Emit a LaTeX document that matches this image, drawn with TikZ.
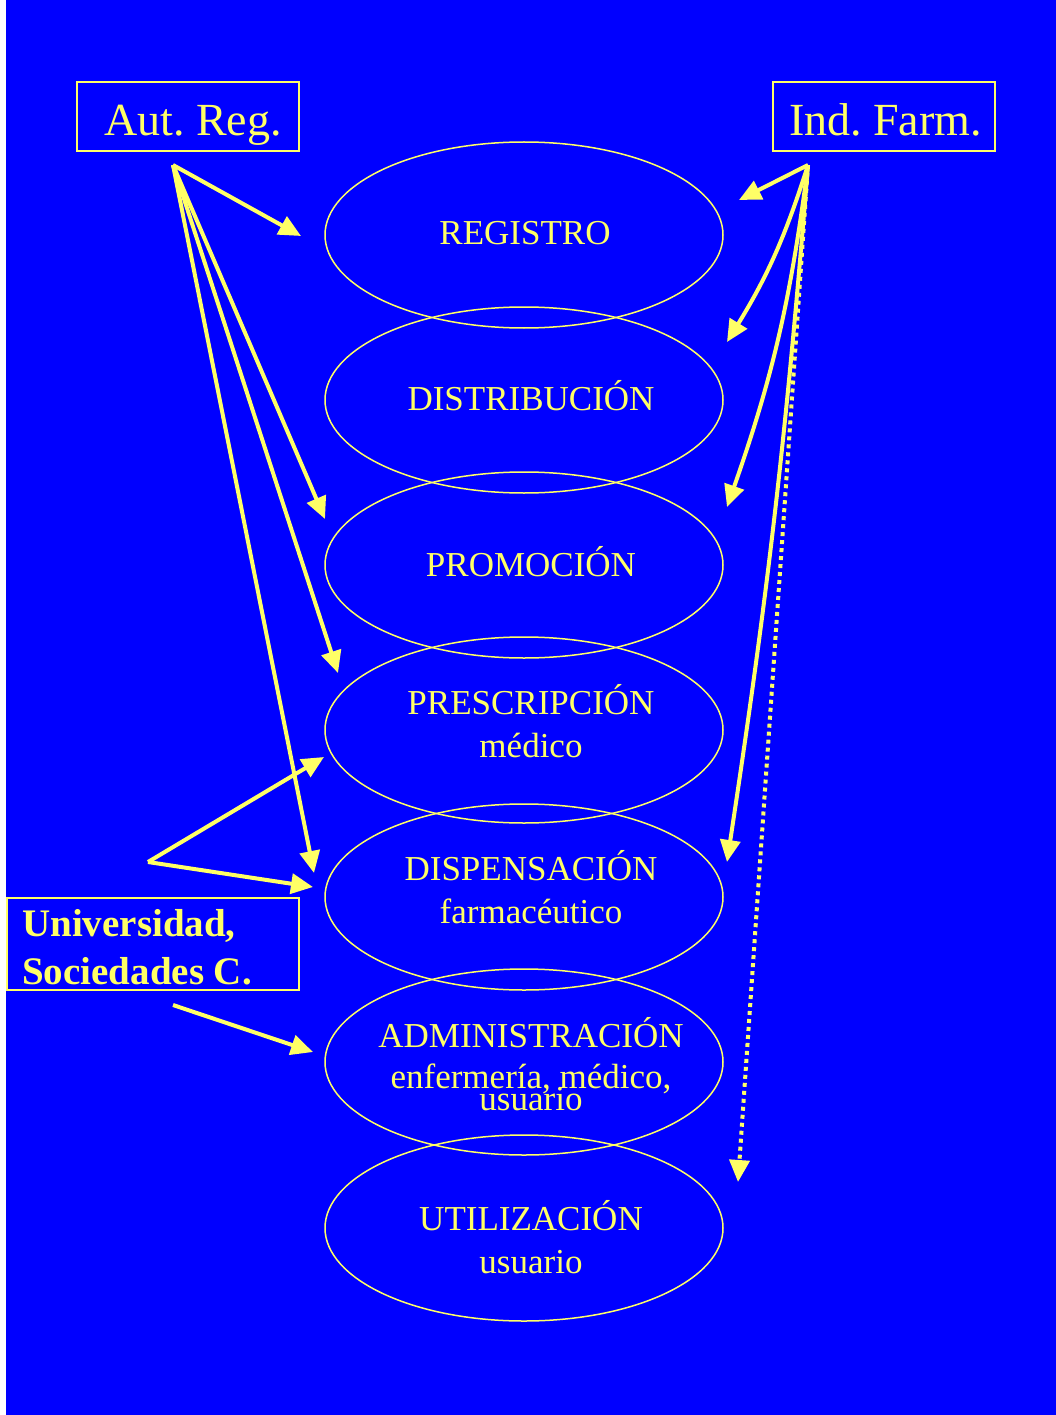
\documentclass[tikz,border=0pt]{standalone}
\usepackage{fontspec}
\setmainfont{Liberation Serif}
\usetikzlibrary{shapes.geometric,arrows.meta}
\definecolor{bg}{RGB}{0,0,255}
\definecolor{yl}{RGB}{255,255,102}
\frenchspacing
\begin{document}
\begin{tikzpicture}[x=1pt,y=-1pt,
  stage/.style={draw=yl,line width=1.5pt,ellipse,minimum width=398pt,minimum height=186pt,inner sep=0pt},
  lbl/.style={text=yl,font=\fontsize{35}{40}\selectfont,inner sep=0pt,anchor=base},
  boxlbl/.style={text=yl,font=\fontsize{46}{50}\selectfont,inner sep=0pt,anchor=base},
  frame/.style={draw=yl,line width=2pt,inner sep=0pt},
  arr/.style={draw=yl,line width=4pt,-{Triangle[length=22pt,width=20pt]}},
  dotarr/.style={draw=yl,line width=4pt,dash pattern=on 4pt off 4pt,-{Triangle[length=22pt,width=20pt]}}]
\path[use as bounding box,fill=white] (0,0) rectangle (1056,1415);
\fill[bg] (6,0) rectangle (1056,1415);

% stages
\node[stage] (reg) at (524,235) {};
\node[stage] (dis) at (524,400) {};
\node[stage] (pro) at (524,565) {};
\node[stage] (pre) at (524,730) {};
\node[stage] (dsp) at (524,897) {};
\node[stage] (adm) at (524,1062) {};
\node[stage] (uti) at (524,1228) {};

\node[lbl] (treg) at (525,244) {REGISTRO};
\node[lbl] (tdis) at (531,410) {DISTRIBUCIÓN};
\node[lbl] (tpro) at (531,576) {PROMOCIÓN};
\node[lbl] (tpre) at (531,714) {PRESCRIPCIÓN};
\node[lbl] (spre) at (531,757) {médico};
\node[lbl] (tdsp) at (531,880) {DISPENSACIÓN};
\node[lbl] (sdsp) at (531,923) {farmacéutico};
\node[lbl] (tadm) at (531,1047) {ADMINISTRACIÓN};
\node[lbl] (sadm) at (531,1088) {enfermería, médico,};
\node[lbl] (uadm) at (531,1110) {usuario};
\node[lbl] (tuti) at (531,1230) {UTILIZACIÓN};
\node[lbl] (suti) at (531,1273) {usuario};

% boxes
\node[frame,minimum width=222pt,minimum height=69pt] (autbox) at (188,116.5) {};
\node[boxlbl] (aut) at (193,136) {Aut. Reg.};
\node[frame,minimum width=222pt,minimum height=69pt] (indbox) at (884,116.5) {};
\node[boxlbl] (ind) at (885.5,136) {Ind. Farm.};
\node[frame,minimum width=292pt,minimum height=92pt] (unibox) at (153,944) {};
\node[text=yl,font=\bfseries\fontsize{39}{48}\selectfont,inner sep=0pt,anchor=base west] (uni1) at (22,936) {Universidad,};
\node[text=yl,font=\bfseries\fontsize{39}{48}\selectfont,inner sep=0pt,anchor=base west] (uni2) at (22,984) {Sociedades C.};

% arrow origins and tips
\coordinate (oa) at (173,165);
\coordinate (oi) at (808,165);
\coordinate (ou) at (148,862);
\coordinate (ou2) at (173,1005);
\coordinate (a1) at (301,236);
\coordinate (a2) at (325,519);
\coordinate (a3) at (338,673);
\coordinate (a4) at (314,873);
\coordinate (u1) at (324,757);
\coordinate (u2) at (313,887);
\coordinate (u3) at (313,1052);
\coordinate (i1) at (739,200);
\coordinate (i2) at (727,342);
\coordinate (i3) at (727,507);
\coordinate (i4) at (727,862);
\coordinate (i5) at (738,1182);

\draw[arr] (oa) -- (a1);
\draw[arr] (oa) -- (a2);
\draw[arr] (oa) -- (a3);
\draw[arr] (oa) -- (a4);
\draw[arr] (ou) -- (u1);
\draw[arr] (ou) -- (u2);
\draw[arr] (ou2) -- (u3);
\draw[arr] (oi) -- (i1);
\draw[arr] (oi) to[bend left=7] (i2);
\draw[arr] (oi) to[bend left=6] (i3);
\draw[arr] (oi) to[bend left=2] (i4);
\draw[dotarr] (oi) -- (i5);
\end{tikzpicture}
\end{document}
